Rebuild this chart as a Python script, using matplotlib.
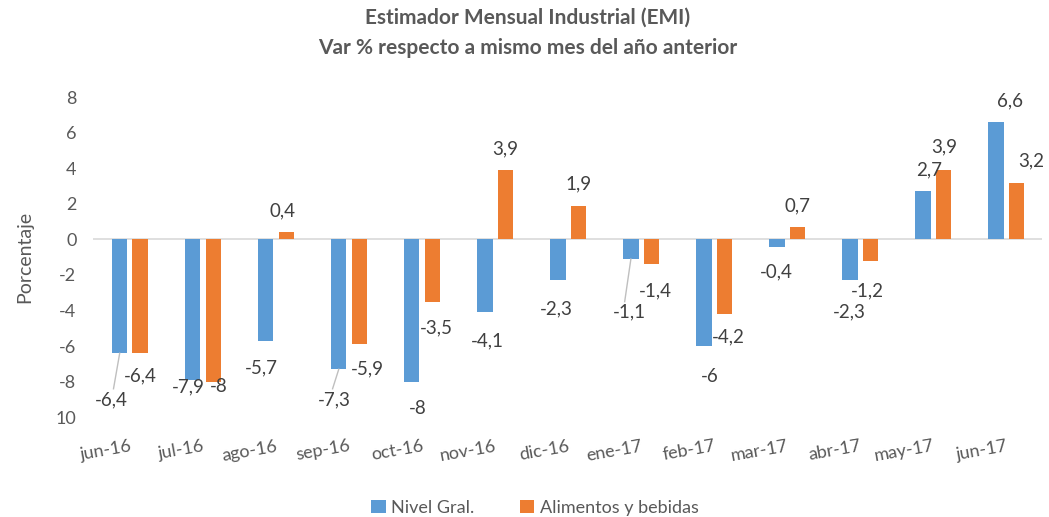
import matplotlib
matplotlib.use('Agg')
import matplotlib.pyplot as plt
import numpy as np

meses = ['jun-16', 'jul-16', 'ago-16', 'sep-16', 'oct-16', 'nov-16', 'dic-16',
         'ene-17', 'feb-17', 'mar-17', 'abr-17', 'may-17', 'jun-17']
nivel = [-6.4, -7.9, -5.7, -7.3, -8, -4.1, -2.3, -1.1, -6, -0.4, -2.3, 2.7, 6.6]
alimentos = [-6.4, -8, 0.4, -5.9, -3.5, 3.9, 1.9, -1.4, -4.2, 0.7, -1.2, 3.9, 3.2]
nivel_txt = ['-6,4', '-7,9', '-5,7', '-7,3', '-8', '-4,1', '-2,3', '-1,1', '-6', '-0,4', '-2,3', '2,7', '6,6']
alim_txt = ['-6,4', '-8', '0,4', '-5,9', '-3,5', '3,9', '1,9', '-1,4', '-4,2', '0,7', '-1,2', '3,9', '3,2']
yticks = [8, 6, 4, 2, 0, -2, -4, -6, -8, -10]
ytick_txt = ['8', '6', '4', '2', '0', '-2', '-4', '-6', '-8', '10']

# where Excel dropped the data labels (x offset from category, y in data units)
nivel_lab = [(-0.25, -9.0), (-0.2, -8.3), (-0.2, -7.2), (-0.2, -9.0), (-0.05, -9.5), (-0.1, -5.7),
             (-0.15, -3.9), (-0.15, -4.1), (-0.05, -7.7), (-0.15, -1.8), (-0.15, -4.1), (-0.05, 3.9), (0.05, 7.8)]
alim_lab = [(0.15, -7.7), (0.22, -8.3), (0.1, 1.6), (0.25, -7.3), (0.2, -5.0), (0.15, 5.1),
            (0.15, 3.1), (0.2, -2.9), (0.2, -5.5), (0.15, 1.9), (0.1, -2.9), (0.15, 5.2), (0.35, 4.4)]
leader = [0, 3, 7]

blue = '#5B9BD5'
orange = '#ED7D31'
txt = '#404040'
plt.rcParams['font.family'] = ['Lato', 'DejaVu Sans']

fig = plt.figure(figsize=(10.49, 5.17), dpi=100)
ax = fig.add_axes([0.0887, 0.193, 0.905, 0.619])

x = np.arange(len(meses))
w = 0.21
ax.bar(x - 0.135, nivel, w, color=blue, label='Nivel Gral.', zorder=2)
ax.bar(x + 0.145, alimentos, w, color=orange, label='Alimentos y bebidas', zorder=2)
ax.axhline(0, color='#d9d9d9', lw=1.2, zorder=1)

for i in range(len(meses)):
    dx, yy = nivel_lab[i]
    ax.text(x[i] + dx, yy, nivel_txt[i], ha='center', va='center', fontsize=13.5, color=txt)
    if i in leader:
        ax.plot([x[i] - 0.135, x[i] - 0.22], [nivel[i], yy + 0.6], color='#bfbfbf', lw=1)
    dx, yy = alim_lab[i]
    ax.text(x[i] + dx, yy, alim_txt[i], ha='center', va='center', fontsize=13.5, color=txt)

ax.set_xlim(-0.5, 12.5)
ax.set_ylim(-10, 8)
ax.set_yticks(yticks)
ax.set_yticklabels(ytick_txt, fontsize=13, color='#595959')
ax.set_xticks(x)
ax.set_xticklabels(meses, fontsize=13, color='#595959', rotation=10, ha='right',
                   rotation_mode='anchor')
ax.tick_params(length=0, pad=12)
ax.tick_params(axis='x', pad=15)
for s in ax.spines.values():
    s.set_visible(False)
ax.set_ylabel('Porcentaje', fontsize=14, color='#595959', labelpad=16)

fig.text(0.503, 0.965, 'Estimador Mensual Industrial (EMI)', ha='center', va='center',
         fontsize=15, fontweight='bold', color='#595959')
fig.text(0.503, 0.907, 'Var % respecto a mismo mes del año anterior', ha='center', va='center',
         fontsize=15, fontweight='bold', color='#595959')

fig.legend(loc='center', bbox_to_anchor=(0.51, 0.018), ncol=2, frameon=False, fontsize=13,
           handlelength=0.8, handleheight=0.8, columnspacing=2.5, handletextpad=0.3,
           labelcolor='#595959')

fig.savefig('out.png', dpi=100)
